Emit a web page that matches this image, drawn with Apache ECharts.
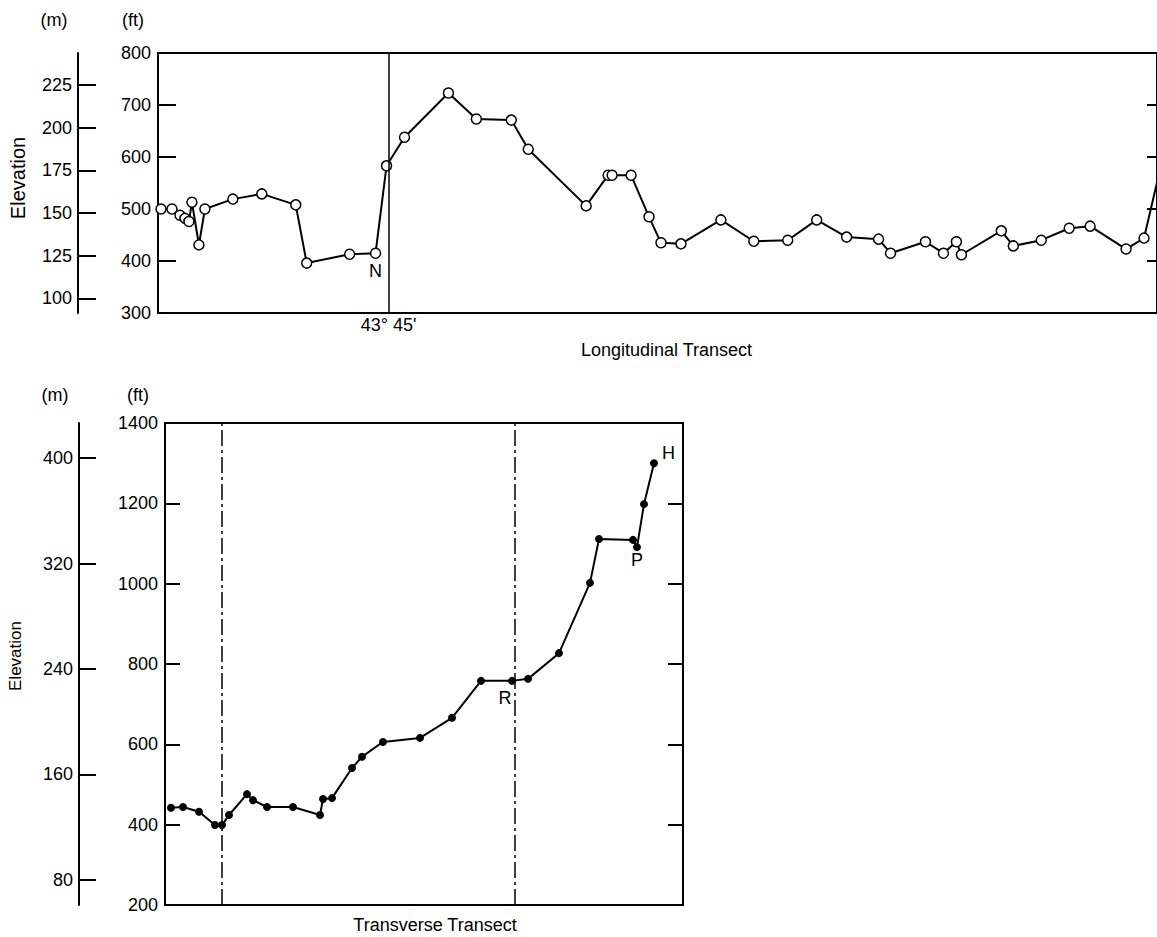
<!DOCTYPE html>
<html lang="en">
  <head>
    <meta charset="UTF-8" />
    <title>Elevation transects</title>
    <script src="https://cdn.jsdelivr.net/npm/echarts@6/dist/echarts.min.js"></script>
    <style>
      html, body { margin: 0; padding: 0; background: #fff; }
    </style>
  </head>

  <body>
    <div id="main" style="width: 1157px; height: 937px"></div>

    <script type="text/javascript">
      // feet per metre, used to line the (m) axis up with the (ft) axis
      var FT_PER_M = 3.28084;

      // Longitudinal transect: distance along the plot (arbitrary units) and elevation in ft
      var topX = [3, 14, 22, 27, 31, 34, 41, 47, 75, 104, 138, 149, 192, 218,
        229, 247, 291, 319, 354, 371, 429, 451, 455, 474, 492, 504, 524,
        564, 597, 631, 660, 690, 722, 734, 769, 787, 800, 805, 845, 857, 885,
        913, 934, 970, 988, 1010];
      var topFt = [500, 500, 488, 482, 476, 513, 431, 500, 519, 529, 508, 396, 413, 415,
        583, 638, 723, 673, 671, 615, 506, 565, 565, 565, 485, 435, 433,
        479, 438, 440, 479, 446, 442, 415, 437, 415, 437, 412, 458, 429, 440,
        463, 467, 423, 444, 625];
      var topTagIdx = [13];
      var topTagText = ["N"];
      var topMarkX = [231];
      var topXTickValues = [231];
      var topXTickLabels = ["43° 45'"];
      var topMTicks = [100, 125, 150, 175, 200, 225];

      // Transverse transect
      var botX = [6, 18, 34, 50, 57, 64, 82, 88, 102, 128, 155, 158, 167, 187,
        197, 218, 255, 287, 316, 347, 363, 394, 425, 434, 468, 472, 479, 489];
      var botFt = [442, 444, 432, 399, 399, 424, 476, 461, 444, 444, 424, 464, 466, 541,
        569, 606, 616, 666, 758, 758, 763, 827, 1002, 1111, 1109, 1091, 1198, 1300];
      var botTagIdx = [19, 25, 27];
      var botTagText = ["R", "P", "H"];
      var botMarkX = [57, 350];
      var botMTicks = [80, 160, 240, 320, 400];

      var FONT = "Liberation Sans, Arial, Helvetica, sans-serif";

      // where each point tag sits relative to its point
      var tagPlace = {
        N: { position: "bottom", distance: 3 },
        R: { position: "bottom", distance: 4, offset: [-7, 0] },
        P: { position: "bottom", distance: 0 },
        H: { position: "right", distance: 4, offset: [0, -10] }
      };

      function plain(v) { return String(Math.round(v)); }

      function buildData(xs, ys, tagIdx, tagText) {
        return xs.map(function (x, i) {
          var item = { value: [x, ys[i]] };
          var k = tagIdx.indexOf(i);
          if (k >= 0) {
            item.label = Object.assign(
              { show: true, formatter: tagText[k], fontSize: 18, color: "#000", fontFamily: FONT },
              tagPlace[tagText[k]]
            );
          }
          return item;
        });
      }

      function ftAxis(grid, min, max, step, tickLen) {
        return {
          type: "value", gridIndex: grid, position: "left",
          min: min, max: max, interval: step,
          axisLine: { show: true, lineStyle: { color: "#000", width: 2 } },
          axisTick: { show: true, inside: true, length: tickLen, lineStyle: { color: "#000", width: 2 } },
          axisLabel: { color: "#000", fontSize: 18, fontFamily: FONT, margin: 7, formatter: plain },
          splitLine: { show: false }
        };
      }

      function rightTicks(grid, min, max, step, tickLen) {
        return {
          type: "value", gridIndex: grid, position: "right",
          min: min, max: max, interval: step,
          axisLine: { show: false },
          axisTick: { show: true, inside: true, length: tickLen, lineStyle: { color: "#000", width: 2 } },
          axisLabel: { show: false },
          splitLine: { show: false }
        };
      }

      function mAxis(grid, minFt, maxFt, ticks, offset, tickLen) {
        return {
          type: "value", gridIndex: grid, position: "left", offset: offset,
          min: minFt / FT_PER_M, max: maxFt / FT_PER_M,
          axisLine: { show: true, lineStyle: { color: "#000", width: 2 } },
          axisTick: { show: true, inside: true, length: tickLen, customValues: ticks, lineStyle: { color: "#000", width: 2 } },
          axisLabel: { color: "#000", fontSize: 18, fontFamily: FONT, margin: 6, customValues: ticks, formatter: plain },
          splitLine: { show: false }
        };
      }

      function vLines(xs, type) {
        return {
          silent: true,
          symbol: ["none", "none"],
          label: { show: false },
          lineStyle: { color: "#000", width: 1.5, type: type },
          data: xs.map(function (x) { return { xAxis: x }; })
        };
      }

      function txt(x, y, text, size, extra) {
        return Object.assign({
          type: "text", x: x, y: y,
          style: {
            text: text, fill: "#000",
            fontSize: size, fontFamily: FONT,
            font: size + "px " + FONT,
            align: "center", verticalAlign: "middle",
            textAlign: "center", textVerticalAlign: "middle"
          }
        }, extra || {});
      }

      var myChart = echarts.init(document.getElementById("main"), null, { renderer: "svg" });

      var option = {
        animation: false,
        backgroundColor: "#fff",
        grid: [
          { left: 158, top: 53, width: 1001, height: 260, show: true, borderColor: "#000", borderWidth: 2 },
          { left: 165, top: 423, width: 518, height: 482, show: true, borderColor: "#000", borderWidth: 2 }
        ],
        xAxis: [
          {
            type: "value", gridIndex: 0, min: 0, max: 1001,
            axisLine: { show: false }, axisTick: { show: false }, splitLine: { show: false },
            axisLabel: {
              color: "#000", fontSize: 18, fontFamily: FONT, margin: 3,
              customValues: topXTickValues,
              formatter: function (v) { return topXTickLabels[topXTickValues.indexOf(v)] || ""; }
            },
            name: "Longitudinal Transect", nameLocation: "middle", nameGap: 28,
            nameTextStyle: { color: "#000", fontSize: 18, fontFamily: FONT, padding: [0, 0, 0, 18] }
          },
          {
            type: "value", gridIndex: 1, min: 0, max: 518,
            axisLine: { show: false }, axisTick: { show: false }, splitLine: { show: false },
            axisLabel: { show: false }
          }
        ],
        yAxis: [
          ftAxis(0, 300, 800, 100, 18),
          rightTicks(0, 300, 800, 100, 10),
          mAxis(0, 300, 800, topMTicks, 80, 18),
          ftAxis(1, 200, 1400, 200, 15),
          rightTicks(1, 200, 1400, 200, 15),
          mAxis(1, 200, 1400, botMTicks, 86, 17)
        ],
        graphic: [
          txt(54, 20, "(m)", 18),
          txt(133, 20, "(ft)", 18),
          txt(18, 178, "Elevation", 20, { rotation: Math.PI / 2 }),
          txt(55, 395, "(m)", 18),
          txt(138, 395, "(ft)", 18),
          txt(15, 656, "Elevation", 17, { rotation: Math.PI / 2 }),
          txt(435, 925, "Transverse Transect", 18)
        ],
        series: [
          {
            type: "line", xAxisIndex: 0, yAxisIndex: 0,
            data: buildData(topX, topFt, topTagIdx, topTagText),
            symbol: "circle", symbolSize: 10, showAllSymbol: true,
            itemStyle: { color: "#fff", borderColor: "#000", borderWidth: 1.5 },
            lineStyle: { color: "#000", width: 2 },
            label: { show: false },
            markLine: vLines(topMarkX, "solid")
          },
          {
            type: "line", xAxisIndex: 1, yAxisIndex: 3,
            data: buildData(botX, botFt, botTagIdx, botTagText),
            symbol: "circle", symbolSize: 8, showAllSymbol: true,
            itemStyle: { color: "#000", borderColor: "#000", borderWidth: 0 },
            lineStyle: { color: "#000", width: 2 },
            label: { show: false },
            markLine: vLines(botMarkX, [16, 4, 3, 4])
          }
        ]
      };

      myChart.setOption(option);
    </script>
  </body>
</html>
